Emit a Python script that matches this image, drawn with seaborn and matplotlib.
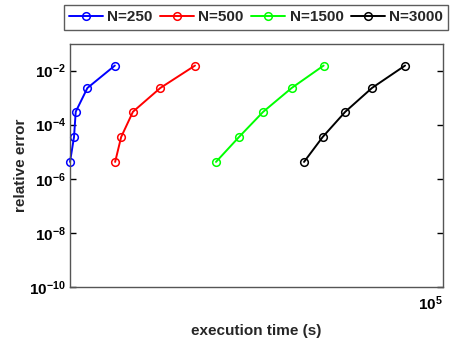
import numpy as np
import pandas as pd
import matplotlib
matplotlib.use("Agg")
import matplotlib.pyplot as plt
import seaborn as sns
from matplotlib.ticker import FixedLocator, NullLocator, FuncFormatter
from matplotlib.lines import Line2D

sns.set_style("white")
plt.rcParams['font.family'] = ['Liberation Sans', 'DejaVu Sans']
plt.rcParams['font.weight'] = 'bold'
plt.rcParams['mathtext.fontset'] = 'custom'
plt.rcParams['mathtext.rm'] = 'Liberation Sans:bold'
plt.rcParams['mathtext.bf'] = 'Liberation Sans:bold'
plt.rcParams['mathtext.it'] = 'Liberation Sans:bold'
plt.rcParams['mathtext.default'] = 'bf'
plt.rcParams['axes.unicode_minus'] = False

# ---- data ----
series_labels = ["N=250", "N=500", "N=1500", "N=3000"]
time_250 = [2.00e4, 2.035e4, 2.05e4, 2.156e4, 2.427e4]
time_500 = [2.43e4, 2.494e4, 2.624e4, 2.953e4, 3.43e4]
time_1500 = [3.755e4, 4.147e4, 4.604e4, 5.205e4, 5.975e4]
time_3000 = [5.49e4, 5.95e4, 6.56e4, 7.36e4, 8.49e4]
rel_error = [4.2e-6, 3.5e-5, 3.0e-4, 2.27e-3, 1.53e-2]
colors = ["#0000ff", "#ff0000", "#00ff00", "#000000"]
y_ticks = [1e-10, 1e-8, 1e-6, 1e-4, 1e-2]
x_ticks = [1e5]

times = [time_250, time_500, time_1500, time_3000]
rows = []
for lab, t in zip(series_labels, times):
    for ti, ei in zip(t, rel_error):
        rows.append({"time": ti, "err": ei, "N": lab})
df = pd.DataFrame(rows)

fig = plt.figure(figsize=(4.56, 3.39), dpi=100)
ax = fig.add_axes([70/456, 1-287/339, (443-70)/456, (287-43.5)/339])

sns.lineplot(data=df, x="time", y="err", hue="N", hue_order=series_labels,
             palette=colors, marker="o", markersize=5.5,
             markeredgewidth=1.1, linewidth=1.4, ax=ax, legend=False,
             estimator=None, sort=False)
for ln in ax.lines:
    c = ln.get_color()
    ln.set_markerfacecolor("none")
    ln.set_markeredgecolor(c)
    ln.set_clip_on(False)

ax.set_xscale("log")
ax.set_yscale("log")
ax.set_xlim(2.0e4, 1e5)
ax.set_ylim(1e-10, 1e-1)

ax.xaxis.set_major_locator(FixedLocator(x_ticks))
ax.xaxis.set_minor_locator(NullLocator())
ax.yaxis.set_major_locator(FixedLocator(y_ticks))
ax.yaxis.set_minor_locator(NullLocator())

def fmt(v, pos):
    e = int(round(np.log10(v)))
    return r"$\mathbf{10^{%d}}$" % e

ax.xaxis.set_major_formatter(FuncFormatter(fmt))
ax.yaxis.set_major_formatter(FuncFormatter(fmt))

ax.tick_params(axis="both", which="major", direction="in", length=4, width=1,
               labelsize=11, colors="black", pad=3)
ax.tick_params(axis="y", right=True, left=True)
ax.tick_params(axis="x", bottom=False, top=False, pad=5)
for lbl in ax.get_xticklabels():
    lbl.set_horizontalalignment("right")

for s in ax.spines.values():
    s.set_color("#555555")
    s.set_linewidth(1.0)
    s.set_visible(True)

ax.set_xlabel("execution time (s)", fontsize=11, fontweight="bold")
ax.set_ylabel("relative error", fontsize=11, fontweight="bold")
ax.xaxis.set_label_coords(0.5, -(324 - 287) / 243.5)
ax.yaxis.set_label_coords((28 - 70) / 373, 0.5)

handles = [Line2D([], [], color=c, marker="o", markersize=5.5, markerfacecolor="none",
                  markeredgecolor=c, markeredgewidth=1.1, linewidth=1.4) for c in colors]
leg = fig.legend(handles, series_labels, ncol=4, loc="upper center",
                 bbox_to_anchor=(256/456, 1-5/339), fontsize=11,
                 frameon=True, fancybox=False, edgecolor="#333333",
                 handlelength=2.2, handletextpad=0.3, columnspacing=0.5,
                 borderpad=0.35, borderaxespad=0)
leg.get_frame().set_linewidth(1.0)
for t in leg.get_texts():
    t.set_fontweight("bold")

fig.savefig("out.png", dpi=100)
